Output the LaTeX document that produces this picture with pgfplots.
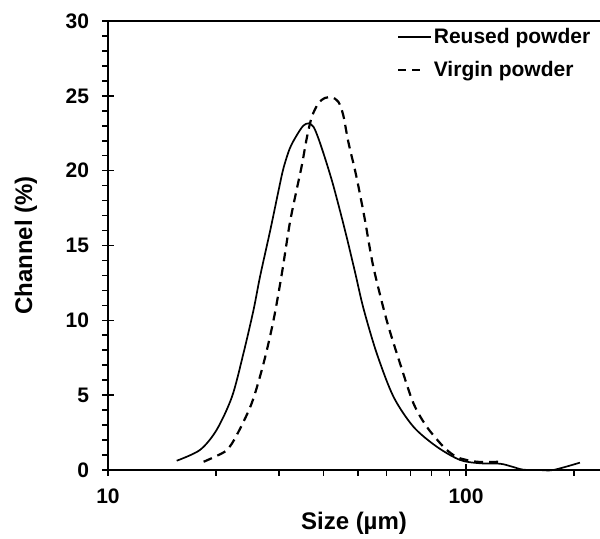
\documentclass[border=0pt]{standalone}
\usepackage{pgfplots}
\pgfplotsset{compat=1.18}
\usepackage{fontspec}
\setmainfont{Liberation Sans}
\pgfplotsset{dashlegend/.style={legend image code/.code={\draw[##1, dash pattern=on 4pt off 3pt] (0pt,0pt) -- (12.5pt,0pt);}}}
\begin{document}
\begin{tikzpicture}
\useasboundingbox (-54pt,-34.5pt) rectangle (246pt,235pt);
\begin{axis}[
  scale only axis,
  width=246pt, height=224.5pt,
  xmode=log, log basis x=10,
  xmin=10, xmax=236.7,
  ymin=0, ymax=30,
  axis x line=bottom, axis y line=left,
  axis line style={-, line width=1pt},
  xtick={10,100}, xticklabels={10,100},
  minor xtick={20,30,40,50,60,70,80,90,200},
  ytick={0,5,10,15,20,25,30},
  minor ytick={1,2,3,4,6,7,8,9,11,12,13,14,16,17,18,19,21,22,23,24,26,27,28,29},
  tick align=center,
  major tick length=6pt,
  minor tick length=3pt,
  tick style={line width=0.8pt, black},
  minor x tick style={yshift=-1.5pt},
  minor y tick style={xshift=-1.5pt},
  /pgf/number format/assume math mode=true,
  ticklabel style={font=\bfseries\fontsize{10.5}{12}\selectfont},
  xticklabel style={yshift=-3pt},
  yticklabel style={xshift=-3pt},
  xlabel={Size (µm)},
  ylabel={Channel (\%)},
  label style={font=\bfseries\fontsize{12}{14}\selectfont},
  xlabel style={at={(axis description cs:0.5,-0.118)}, anchor=center},
  ylabel style={at={(axis description cs:-0.1667,0.5)}, anchor=center},
  legend style={at={(axis description cs:0.985,0.99)}, anchor=north east,
    draw=none, fill=none, inner sep=0pt, row sep=5.5pt,
    font=\bfseries\fontsize{10.5}{12}\selectfont,
    nodes={inner sep=1pt}},
  legend cell align=left,
  legend image code/.code={\draw[#1] (0pt,0pt) -- (16.5pt,0pt);},
  clip=false,
]
\addplot[black, line width=0.85pt, smooth, tension=0.5] coordinates {
(15.56,0.62) (18.07,1.34) (20.1,2.67) (22.2,4.90) (23.9,7.80) (25.5,10.7)
(26.6,12.95) (28.4,16.03) (29.9,18.59) (30.9,20.15) (32.2,21.49) (33.7,22.38)
(35.1,23.0) (36.3,23.16) (37.5,22.93) (38.7,22.16) (40.4,20.82) (42.6,19.0)
(45.9,16.03) (49.0,13.2) (51.7,10.8) (56.3,7.80) (62.7,4.90) (71.3,2.89)
(82.8,1.56) (96.2,0.67) (109.4,0.45) (124.4,0.42) (134.6,0.22) (144.5,0.02)
(160,0) (175.3,0) (208,0.49)
};
\addlegendentry{Reused powder}
\addplot[black, line width=1.1pt, dash pattern=on 4.5pt off 3pt, smooth, tension=0.5, dashlegend] coordinates {
(18.5,0.55) (19.9,0.89) (21.5,1.34) (22.9,2.34) (25.2,4.46) (27.2,7.13)
(29.0,10.02) (30.6,13.14) (32.2,16.5) (33.7,18.8) (34.8,20.37) (35.9,22.16)
(37.1,23.6) (38.7,24.5) (40.3,24.85) (42.2,24.9) (44.0,24.6) (45.4,23.71)
(46.9,21.93) (49.0,20.0) (50.4,18.59) (52.2,16.70) (55.1,13.58) (60.0,10.02)
(65.4,7.13) (71.3,4.46) (77.7,2.89) (86.4,1.56) (92.2,1.00) (96.2,0.78)
(107.1,0.55) (124.4,0.55)
};
\addlegendentry{Virgin powder}
\draw[line width=1pt] (rel axis cs:0,1) -- (rel axis cs:1,1);
\end{axis}
\end{tikzpicture}
\end{document}
